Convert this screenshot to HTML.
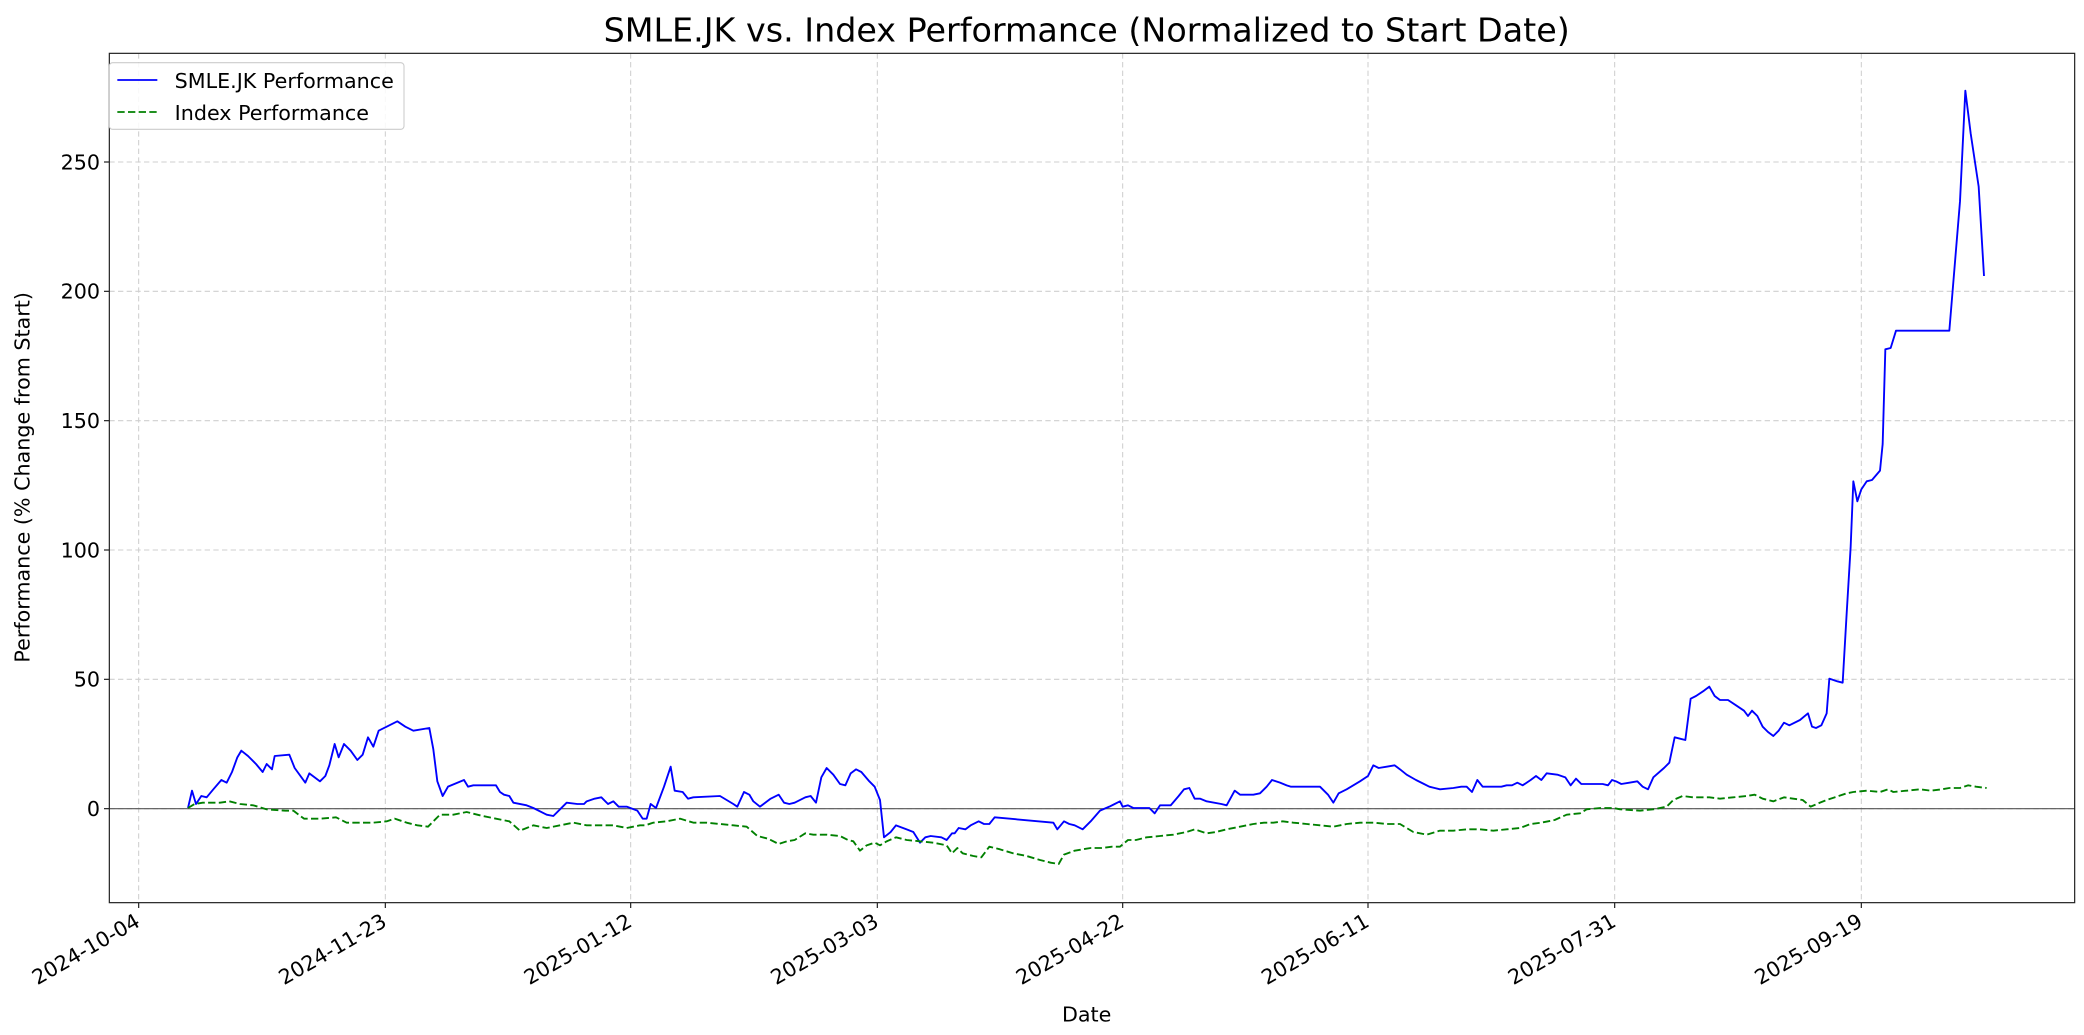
<!DOCTYPE html>
<html><head><meta charset="utf-8"><style>html,body{margin:0;padding:0;background:#fff}svg{display:block}</style></head>
<body>
<svg width="2084" height="1035" viewBox="0 0 1563 776.25" xmlns="http://www.w3.org/2000/svg" font-family="DejaVu Sans, Liberation Sans, sans-serif">
<rect width="1563" height="776.25" fill="#fff"/>
<g stroke="#cfcfcf" stroke-width="0.8" stroke-dasharray="4,2.5">
<line x1="104" y1="40" x2="104" y2="677"/><line x1="289" y1="40" x2="289" y2="677"/><line x1="473" y1="40" x2="473" y2="677"/><line x1="658" y1="40" x2="658" y2="677"/><line x1="842" y1="40" x2="842" y2="677"/><line x1="1026" y1="40" x2="1026" y2="677"/><line x1="1211" y1="40" x2="1211" y2="677"/><line x1="1396" y1="40" x2="1396" y2="677"/>
<line x1="82" y1="606.5" x2="1556" y2="606.5"/><line x1="82" y1="509.5" x2="1556" y2="509.5"/><line x1="82" y1="412.5" x2="1556" y2="412.5"/><line x1="82" y1="315.5" x2="1556" y2="315.5"/><line x1="82" y1="218.5" x2="1556" y2="218.5"/><line x1="82" y1="121.5" x2="1556" y2="121.5"/>
</g>
<line x1="82" y1="606.5" x2="1556" y2="606.5" stroke="#555" stroke-width="0.9"/>
<polyline fill="none" stroke="#0000ff" stroke-width="1.4" stroke-linejoin="round" points="141,606 144,593 147,603 151,597 155,598 160,592 166,585 170,587 174,579 178,568 181,563 186,567 192,573 197,579 200,573 204,577 206,567 217,566 221,576 229,587 232,580 240,586 244,582 247,574 251,558 254,568 258,558 263,563 268,570 272,566 276,553 280,560 284,548 290,545 298,541 304,545 310,548 322,546 325,562 328,586 332,597 336,590 348,585 351,590 355,589 372,589 375,594 378,596 382,597 385,602 395,604 400,606 410,611 415,612 422,605 425,602 433,603 438,603 440,601 446,599 451,598 456,603 460,601 464,605 470,605 478,608 482,614 485,614 488,603 492,606 498,590 503,575 506,593 512,594 516,599 520,598 540,597 550,603 553,605 558,594 562,596 565,601 570,605 578,599 584,596 588,602 592,603 596,602 604,598 608,597 612,602 616,583 620,576 625,581 630,588 634,589 638,580 642,577 646,579 652,586 656,590 660,600 663,628 668,624 672,619 680,622 685,624 690,632 694,628 698,627 706,628 710,630 714,625 716,625 719,621 724,622 728,619 734,616 738,618 742,618 746,613 790,617 793,622 798,616 802,618 806,619 812,622 818,616 825,608 832,605 836,603 840,601 842,605 846,604 850,606 862,606 866,610 870,604 878,604 884,597 888,592 892,591 896,599 900,599 905,601 916,603 920,604 926,593 930,596 940,596 945,595 950,590 954,585 960,587 965,589 968,590 980,590 990,590 996,596 1000,602 1004,595 1010,592 1020,586 1026,582 1030,574 1034,576 1040,575 1046,574 1050,577 1055,581 1062,585 1068,588 1072,590 1076,591 1080,592 1090,591 1096,590 1100,590 1104,594 1108,585 1112,590 1126,590 1130,589 1134,589 1138,587 1142,589 1148,585 1152,582 1156,585 1160,580 1168,581 1174,583 1178,589 1182,584 1186,588 1190,588 1198,588 1202,588 1206,589 1209,585 1212,586 1216,588 1222,587 1228,586 1232,590 1236,592 1240,583 1248,576 1252,572 1256,553 1260,554 1264,555 1268,524 1272,522 1278,518 1282,515 1286,522 1290,525 1296,525 1302,529 1308,533 1311,537 1314,533 1318,537 1322,545 1326,549 1330,552 1334,548 1338,542 1342,544 1350,540 1356,535 1359,545 1362,546 1366,544 1370,535 1372,509 1378,511 1382,512 1385,460 1388,410 1390,361 1393,376 1396,367 1400,361 1404,360 1410,353 1412,333 1414,262 1418,261 1422,248 1440,248 1462,248 1470,151 1474,68 1478,100 1484,140 1488,207"/>
<polyline fill="none" stroke="#008000" stroke-width="1.4" stroke-dasharray="5.5,2.5" stroke-linejoin="round" points="141,606 146,603 152,602 165,602 172,601 180,603 190,604 200,607 214,608 220,608 228,614 240,614 252,613 260,617 270,617 280,617 290,616 296,614 305,617 313,619 321,620 330,611 340,611 350,609 358,611 362,612 372,614 382,616 390,623 395,621 400,619 410,621 420,619 430,617 440,619 450,619 460,619 470,621 480,619 484,619 490,617 500,616 510,614 520,617 530,617 540,618 550,619 560,620 568,627 576,629 584,633 590,631 596,630 604,625 610,626 620,626 630,627 636,630 640,631 645,638 650,634 656,632 660,634 665,631 672,628 680,630 690,631 700,632 710,634 714,640 718,636 722,640 730,642 736,643 742,635 750,637 760,640 770,642 780,645 788,647 794,648 798,641 806,638 812,637 818,636 826,636 834,635 840,635 846,630 852,630 860,628 870,627 880,626 890,624 896,622 905,625 912,624 920,622 930,620 940,618 948,617 955,617 962,616 970,617 980,618 990,619 1000,620 1010,618 1020,617 1030,617 1040,618 1050,618 1060,624 1070,626 1080,623 1090,623 1100,622 1110,622 1120,623 1130,622 1140,621 1148,618 1156,617 1166,615 1175,611 1185,610 1190,607 1200,606 1210,606 1215,607 1230,608 1240,607 1250,605 1255,600 1262,597 1270,598 1282,598 1290,599 1300,598 1310,597 1316,596 1322,599 1330,601 1338,598 1345,599 1352,600 1358,605 1365,602 1370,600 1376,598 1385,595 1390,594 1400,593 1410,594 1416,592 1420,594 1430,593 1440,592 1448,593 1456,592 1462,591 1470,591 1476,589 1482,590 1490,591"/>
<rect x="82" y="40" width="1474" height="637" fill="none" stroke="#222" stroke-width="0.9"/>
<g stroke="#222" stroke-width="0.9">
<line x1="104" y1="677" x2="104" y2="681"/><line x1="289" y1="677" x2="289" y2="681"/><line x1="473" y1="677" x2="473" y2="681"/><line x1="658" y1="677" x2="658" y2="681"/><line x1="842" y1="677" x2="842" y2="681"/><line x1="1026" y1="677" x2="1026" y2="681"/><line x1="1211" y1="677" x2="1211" y2="681"/><line x1="1396" y1="677" x2="1396" y2="681"/>
<line x1="78" y1="606.5" x2="82" y2="606.5"/><line x1="78" y1="509.5" x2="82" y2="509.5"/><line x1="78" y1="412.5" x2="82" y2="412.5"/><line x1="78" y1="315.5" x2="82" y2="315.5"/><line x1="78" y1="218.5" x2="82" y2="218.5"/><line x1="78" y1="121.5" x2="82" y2="121.5"/>
</g>
<g font-size="15.5" fill="#000" text-anchor="end">
<text x="75" y="612">0</text><text x="75" y="515">50</text><text x="75" y="418">100</text><text x="75" y="321">150</text><text x="75" y="224">200</text><text x="75" y="127">250</text>
<text transform="translate(106,694) rotate(-30)">2024-10-04</text>
<text transform="translate(291,694) rotate(-30)">2024-11-23</text>
<text transform="translate(475,694) rotate(-30)">2025-01-12</text>
<text transform="translate(660,694) rotate(-30)">2025-03-03</text>
<text transform="translate(844,694) rotate(-30)">2025-04-22</text>
<text transform="translate(1028,694) rotate(-30)">2025-06-11</text>
<text transform="translate(1213,694) rotate(-30)">2025-07-31</text>
<text transform="translate(1398,694) rotate(-30)">2025-09-19</text>
</g>
<text x="815" y="766" font-size="15.5" text-anchor="middle">Date</text>
<text transform="translate(22,358) rotate(-90)" font-size="15.5" text-anchor="middle">Performance (% Change from Start)</text>
<text x="815" y="31" font-size="25" text-anchor="middle">SMLE.JK vs. Index Performance (Normalized to Start Date)</text>
<rect x="82" y="47" width="221" height="50" rx="2.5" fill="#fff" fill-opacity="0.85" stroke="#ccc" stroke-width="0.8"/>
<line x1="88" y1="60" x2="118" y2="60" stroke="#0000ff" stroke-width="1.4"/>
<line x1="88" y1="84" x2="118" y2="84" stroke="#008000" stroke-width="1.4" stroke-dasharray="5.5,2.5"/>
<text x="131" y="66" font-size="15.5">SMLE.JK Performance</text>
<text x="131" y="90" font-size="15.5">Index Performance</text>
</svg>
</body></html>
